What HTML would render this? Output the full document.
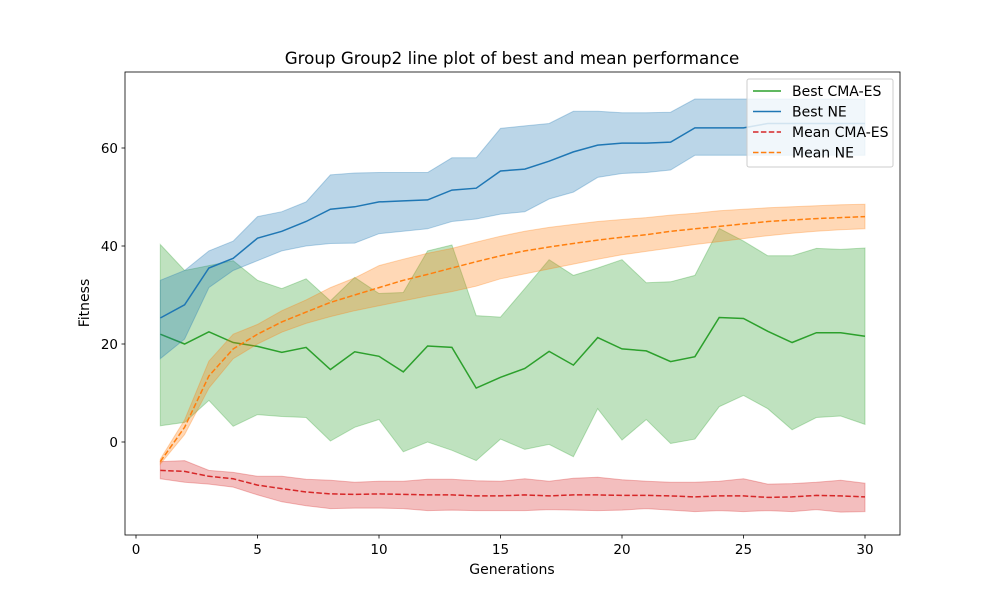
<!DOCTYPE html>
<html><head><meta charset="utf-8"><style>
body{margin:0;background:#fff;font-family:"Liberation Sans","DejaVu Sans",sans-serif}
</style></head><body>
<svg id="chart" width="1000" height="600" xmlns="http://www.w3.org/2000/svg" font-family="DejaVu Sans, Liberation Sans, sans-serif">
<rect width="1000" height="600" fill="#fff"/>
<g id="plot"></g>
</svg>
<script>
const generations=[1,2,3,4,5,6,7,8,9,10,11,12,13,14,15,16,17,18,19,20,21,22,23,24,25,26,27,28,29,30];
const bestNE=[25.3,28,35.5,37.5,41.6,43,45,47.5,48,49,49.2,49.4,51.4,51.8,55.3,55.7,57.3,59.2,60.6,61,61,61.2,64.1,64.1,64.1,65,65,65,65,65];
const bestNEHi=[33,35,39,41,46,47,49,54.5,54.9,55,55,55,58,58,64,64.5,65,67.5,67.5,67.2,67.2,67.3,70,70,70,70,70,70,70,70];
const bestNELo=[17,21,31.5,35,37,39,40,40.5,40.6,42.5,43,43.5,45,45.5,46.5,47,49.6,51,54,54.8,55,55.5,58.5,58.5,58.5,58.5,58.5,58.5,58.5,58.5];
const meanNE=[-4,3,13.5,19,22,24.5,26.5,28.5,30,31.5,33,34.2,35.5,36.8,38,39,39.8,40.5,41.2,41.8,42.3,43,43.5,44,44.5,45,45.3,45.6,45.8,46];
const meanNEHi=[-3.5,4.5,16.5,22,24,26.8,29,31.5,33.5,36,37.3,38.5,39.5,40.8,42,43,43.8,44.4,45,45.4,45.8,46.3,46.7,47.2,47.5,47.8,48,48.2,48.4,48.5];
const meanNELo=[-4.5,1.5,11,17,20,22.4,24.2,25.6,26.8,27.8,28.8,29.8,30.7,31.8,33.3,34.3,35.3,36.3,37.3,38.2,38.9,39.6,40.3,40.9,41.5,42.1,42.6,43,43.3,43.5];
const bestCMA=[22,20,22.5,20.3,19.5,18.3,19.3,14.8,18.4,17.5,14.3,19.6,19.3,11,13.2,15,18.5,15.7,21.3,19,18.6,16.4,17.4,25.4,25.2,22.6,20.3,22.3,22.3,21.6];
const bestCMAHi=[40.3,35,36,37,33,31.3,33.3,28.8,33.6,30.3,30.5,39,40.2,25.8,25.5,31.3,37.2,34,35.5,37.2,32.5,32.7,34,43.6,41,38,38,39.5,39.3,39.6];
const bestCMALo=[3.3,4,8.5,3.2,5.6,5.2,5,0.2,3,4.6,-2,0,-1.7,-3.8,0.6,-1.5,-0.5,-3,6.8,0.4,4.6,-0.3,0.6,7.2,9.5,6.8,2.5,5,5.3,3.6];
const meanCMA=[-5.8,-6,-7,-7.5,-8.8,-9.5,-10.2,-10.6,-10.7,-10.6,-10.7,-10.8,-10.8,-11,-11,-10.8,-11,-10.8,-10.8,-10.9,-10.9,-11,-11.2,-11,-11,-11.3,-11.2,-10.9,-11,-11.2];
const meanCMAHi=[-4,-3.8,-5.8,-6.2,-7,-7,-7.6,-7.8,-8.2,-8,-8,-7.6,-7.6,-7.9,-8,-7.5,-8,-7.4,-7.2,-7.7,-8,-8.2,-8.2,-8,-7.5,-8.6,-8.5,-8.2,-7.8,-8.4];
const meanCMALo=[-7.5,-8.2,-8.6,-9.2,-10.8,-12.2,-13,-13.6,-13.5,-13.5,-13.6,-14,-13.9,-14,-14,-14,-13.8,-13.9,-14,-13.9,-13.6,-13.9,-14.2,-14,-14.2,-14,-14.2,-13.8,-14.3,-14.2];
const xTicks=[0,5,10,15,20,25,30];
const yTicks=[0,20,40,60];

const L=125,R=900,T=72,B=535;
const xs=v=>136+v*24.3;
const ys=v=>442-v*4.9;
const NS="http://www.w3.org/2000/svg";
const g=document.getElementById('plot');
function mk(tag,attrs,parent){const e=document.createElementNS(NS,tag);for(const k in attrs)e.setAttribute(k,attrs[k]);(parent||g).appendChild(e);return e;}
function line(vals){return vals.map((v,i)=>(i?'L':'M')+xs(generations[i]).toFixed(1)+','+ys(v).toFixed(1)).join('');}
function band(hi,lo){let d=line(hi);for(let i=lo.length-1;i>=0;i--)d+='L'+xs(generations[i]).toFixed(1)+','+ys(lo[i]).toFixed(1);return d+'Z';}
const clip=mk('clipPath',{id:'cp'});mk('rect',{x:L,y:T,width:R-L,height:B-T},clip);
const series=[
 ['best-cma-es',bestCMA,bestCMAHi,bestCMALo,'#2ca02c',''],
 ['best-ne',bestNE,bestNEHi,bestNELo,'#1f77b4',''],
 ['mean-cma-es',meanCMA,meanCMAHi,meanCMALo,'#d62728','5.5,2.4'],
 ['mean-ne',meanNE,meanNEHi,meanNELo,'#ff7f0e','5.5,2.4']];
series.forEach(s=>{
 const b=mk('path',{d:band(s[2],s[3]),fill:s[4],'fill-opacity':0.3,stroke:s[4],'stroke-opacity':0.3,'clip-path':'url(#cp)'});
 
 
 const l=mk('path',{d:line(s[1]),fill:'none',stroke:s[4],'stroke-width':1.5,'stroke-dasharray':s[5]});
 
 
});
const frame=mk('rect',{x:L,y:T,width:R-L,height:B-T,fill:'none',stroke:'#000','stroke-width':0.8});


xTicks.forEach(t=>{
 mk('line',{x1:xs(t),x2:xs(t),y1:B,y2:B+3.5,stroke:'#000','stroke-width':0.8});
 const tx=mk('text',{x:xs(t),y:B+19,'font-size':13.5,'text-anchor':'middle'});tx.textContent=t;
 
 
});
yTicks.forEach(t=>{
 mk('line',{x1:L-3.5,x2:L,y1:ys(t),y2:ys(t),stroke:'#000','stroke-width':0.8});
 const tx=mk('text',{x:L-7,y:ys(t)+5,'font-size':13.5,'text-anchor':'end'});tx.textContent=t;
 
 
});
const title=mk('text',{x:512,y:64,'font-size':16.7,'text-anchor':'middle'});title.textContent='Group Group2 line plot of best and mean performance';


const xl=mk('text',{x:512,y:574,'font-size':14,'text-anchor':'middle'});xl.textContent='Generations';


const yl=mk('text',{x:0,y:0,'font-size':14,'text-anchor':'middle',transform:'translate(89,303) rotate(-90)'});yl.textContent='Fitness';


const lg=mk('g',{});


mk('rect',{x:747,y:79,width:146,height:88,rx:2,fill:'#fff','fill-opacity':0.8,stroke:'#ccc'},lg);
const names=['Best CMA-ES','Best NE','Mean CMA-ES','Mean NE'];
series.forEach((s,i)=>{
 const y=91+i*20.5;
 mk('line',{x1:753,x2:781,y1:y,y2:y,stroke:s[4],'stroke-width':1.5,'stroke-dasharray':s[5]},lg);
 const t=mk('text',{x:792,y:y+5,'font-size':14},lg);t.textContent=names[i];
 
 
});
</script>
</body></html>
